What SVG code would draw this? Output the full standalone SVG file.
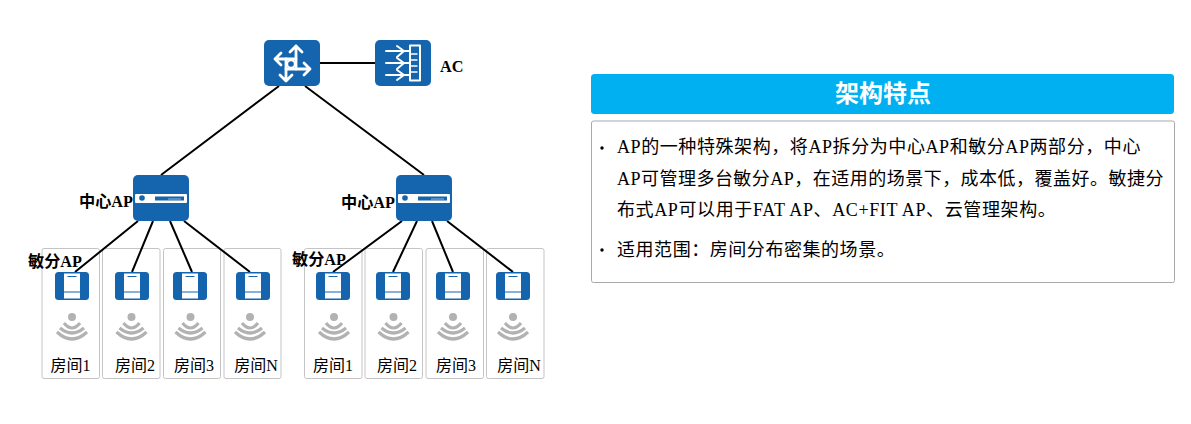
<svg xmlns="http://www.w3.org/2000/svg" width="1191" height="424" viewBox="0 0 1191 424">
<style>
text{font-family:"Liberation Serif","Noto Sans CJK SC",serif;fill:#000}
.b{font-weight:bold;font-size:16.2px}
.room{font-size:16px;text-anchor:middle}
.body{font-size:18px;letter-spacing:.55px}
.box{fill:none;stroke:#c4c4c4;stroke-width:1}
.ic{fill:#1464ae}
.w{fill:none;stroke:#fff;stroke-linecap:round;stroke-linejoin:round}
.lnk{stroke:#000;stroke-width:2;fill:none}
.wf{fill:none;stroke:#b2b2b2;stroke-width:3.2}
</style>
<defs>
<g id="ap">
<rect class="ic" width="34" height="28" rx="3.5"/>
<rect x="9" y="1.500" width="16" height="25" fill="#fff"/>
<path d="M9 20H25" stroke="#1464ae" stroke-width="1"/>
<path d="M12.500 4.500H21.500" stroke="#1464ae" stroke-width="1"/>
</g>
<g id="wifi">
<circle cx="0" cy="0" r="4" fill="#b2b2b2"/>
<path class="wf" d="M-8 6Q0 16 8 6"/>
<path class="wf" d="M-12 11Q0 21 12 11"/>
<path class="wf" d="M-15 15Q0 29 15 15"/>
</g>
<g id="cap">
<rect class="ic" width="56" height="46" rx="5"/>
<rect x="2" y="19" width="52" height="9" rx="1" fill="#fff"/>
<circle cx="9" cy="23" r="2.800" fill="#1464ae"/>
<rect x="22" y="21.500" width="29" height="4" fill="#1464ae"/>
<path d="M35 24H48" stroke="#8fb6da" stroke-width="1"/>
</g>
</defs>
<g id="rooms">
<rect class="box" x="42" y="248.500" width="57.500" height="130" rx="2"/>
<rect class="box" x="102.500" y="248.500" width="57.500" height="130" rx="2"/>
<rect class="box" x="163.500" y="248.500" width="57" height="130" rx="2"/>
<rect class="box" x="224" y="248.500" width="57" height="130" rx="2"/>
<rect class="box" x="304.500" y="248.500" width="57.500" height="130" rx="2"/>
<rect class="box" x="365" y="248.500" width="57.500" height="130" rx="2"/>
<rect class="box" x="426" y="248.500" width="57.500" height="130" rx="2"/>
<rect class="box" x="486.500" y="248.500" width="57.500" height="130" rx="2"/>
</g>
<g id="connectors">
<path class="lnk" d="M320 63H375M279 86L161 175M305 86L424 175"/>
<path class="lnk" d="M138 221L75 272M153 221L132 272M170 221L192 272M184 221L250 272"/>
<path class="lnk" d="M402 221L333 272M417 221L393 272M432 221L453 272M447 221L513 272"/>
</g>
<g id="router">
<rect class="ic" x="264" y="40" width="56" height="46" rx="5"/>
<g class="w" stroke-width="2.800">
<circle cx="291" cy="64" r="3.800" stroke-width="2"/>
<path d="M275 59H296M281 53L275 59L281 65"/>
<path d="M296 46V69M290 52L296 46L302 52"/>
<path d="M286 69H310M304 63L310 69L304 75"/>
<path d="M286 59V81M280 75L286 81L292 75"/>
</g>
</g>
<g id="ac">
<rect class="ic" x="375" y="40" width="56" height="46" rx="5"/>
<g class="w" stroke-width="2">
<rect x="410" y="45.500" width="10" height="35"/>
<path d="M386 51H410M386 63H410M386 75H410"/>
<path d="M397 46L404 51L397 57M397 58L404 63L397 69M397 70L404 75L397 80"/>
<path d="M410 54H417M410 60H417M410 66H417M410 72H417" stroke-width="1.400"/>
</g>
</g>
<text class="b" x="440" y="72">AC</text>
<g id="center-left"><use href="#cap" x="133" y="175"/><text class="b" x="79" y="207">中心AP</text></g>
<g id="center-right"><use href="#cap" x="396" y="175"/><text class="b" x="341" y="208">中心AP</text></g>
<g id="room-l1"><use href="#ap" x="55" y="272"/><use href="#wifi" x="72" y="317"/><text class="room" x="70.500" y="371">房间1</text></g>
<g id="room-l2"><use href="#ap" x="115" y="272"/><use href="#wifi" x="131.500" y="317"/><text class="room" x="135" y="371">房间2</text></g>
<g id="room-l3"><use href="#ap" x="173" y="272"/><use href="#wifi" x="190.500" y="317"/><text class="room" x="194" y="371">房间3</text></g>
<g id="room-l4"><use href="#ap" x="236" y="272"/><use href="#wifi" x="250" y="317"/><text class="room" x="256" y="371">房间N</text></g>
<g id="room-r1"><use href="#ap" x="316" y="272"/><use href="#wifi" x="334" y="317"/><text class="room" x="333" y="371">房间1</text></g>
<g id="room-r2"><use href="#ap" x="376" y="272"/><use href="#wifi" x="393.500" y="317"/><text class="room" x="397" y="371">房间2</text></g>
<g id="room-r3"><use href="#ap" x="436" y="272"/><use href="#wifi" x="453" y="317"/><text class="room" x="456" y="371">房间3</text></g>
<g id="room-r4"><use href="#ap" x="496" y="272"/><use href="#wifi" x="513" y="317"/><text class="room" x="519" y="371">房间N</text></g>
<text class="b" x="28" y="267">敏分AP</text>
<text class="b" x="292" y="265">敏分AP</text>
<g id="panel-title">
<rect x="591" y="74" width="583" height="40" rx="3.500" fill="#00b0f0"/>
<text x="883" y="102" text-anchor="middle" font-size="24" font-weight="bold" style="fill:#fff">架构特点</text>
</g>
<g id="panel-body">
<rect x="591.500" y="121" width="583" height="161.500" rx="2" fill="#fff" stroke="#a9a9a9" stroke-width="1"/>
<circle cx="602" cy="148" r="1.700" fill="#000"/>
<circle cx="602" cy="250" r="1.700" fill="#000"/>
<text class="body" x="617" y="153" style="letter-spacing:.58px">AP的一种特殊架构，将AP拆分为中心AP和敏分AP两部分，中心</text>
<text class="body" x="617" y="185" style="letter-spacing:.48px">AP可管理多台敏分AP，在适用的场景下，成本低，覆盖好。敏捷分</text>
<text class="body" x="617" y="216" style="letter-spacing:.62px">布式AP可以用于FAT AP、AC+FIT AP、云管理架构。</text>
<text class="body" x="617" y="256">适用范围：房间分布密集的场景。</text>
</g>
</svg>
